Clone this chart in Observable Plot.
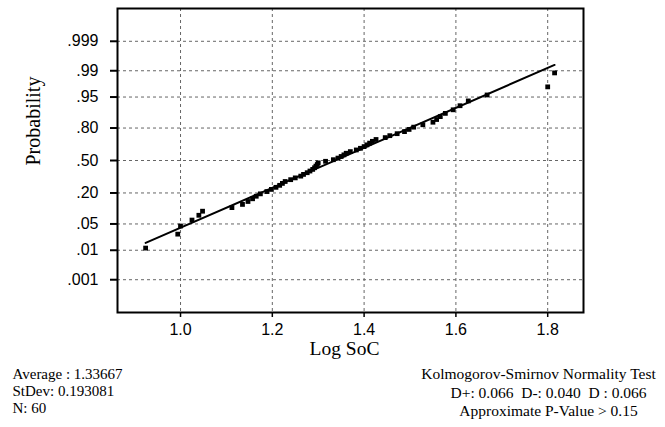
<!DOCTYPE html>
<html><head><meta charset="utf-8">
<script src="https://cdn.jsdelivr.net/npm/d3@7"></script>
<script src="https://cdn.jsdelivr.net/npm/@observablehq/plot@0.6"></script>
<style>body{margin:0;background:#fff}</style>
</head><body><div id="chart"></div>
<script>
const logSoC = [0.924,0.994,1.000,1.025,1.040,1.048,1.112,1.135,1.147,1.157,
  1.165,1.174,1.188,1.198,1.208,1.216,1.222,1.228,1.240,1.250,
  1.262,1.268,1.276,1.282,1.288,1.292,1.295,1.298,1.300,1.316,
  1.333,1.343,1.350,1.356,1.361,1.370,1.383,1.392,1.400,1.406,
  1.412,1.418,1.426,1.446,1.456,1.472,1.488,1.498,1.508,1.528,
  1.550,1.558,1.566,1.577,1.594,1.609,1.627,1.668,1.800,1.815];
const probTicks = [0.001,0.01,0.05,0.20,0.50,0.80,0.95,0.99,0.999];
const probLabels = [".001",".01",".05",".20",".50",".80",".95",".99",".999"];
const xTicks = [1.0,1.2,1.4,1.6,1.8];
const average = 1.33667, stdev = 0.193081, nObs = 60;
const statsLines = ["Average : 1.33667","StDev: 0.193081","N: 60"];
const ksLines = ["Kolmogorov-Smirnov Normality Test","D+: 0.066  D-: 0.040  D : 0.066","Approximate P-Value > 0.15"];

function probit(p){
  const a=[-3.969683028665376e+01,2.209460984245205e+02,-2.759285104469687e+02,1.383577518672690e+02,-3.066479806614716e+01,2.506628277459239e+00];
  const b=[-5.447609879822406e+01,1.615858368580409e+02,-1.556989798598866e+02,6.680131188771972e+01,-1.328068155288572e+01];
  const c=[-7.784894002430293e-03,-3.223964580411365e-01,-2.400758277161838e+00,-2.549732539343734e+00,4.374664141464968e+00,2.938163982698783e+00];
  const d=[7.784695709041462e-03,3.224671290700398e-01,2.445134137142996e+00,3.754408661907416e+00];
  const pl=0.02425;
  const tail=q=>(((((c[0]*q+c[1])*q+c[2])*q+c[3])*q+c[4])*q+c[5])/((((d[0]*q+d[1])*q+d[2])*q+d[3])*q+1);
  if(p<pl) return tail(Math.sqrt(-2*Math.log(p)));
  if(p>1-pl) return -tail(Math.sqrt(-2*Math.log(1-p)));
  const q=p-0.5, r=q*q;
  return (((((a[0]*r+a[1])*r+a[2])*r+a[3])*r+a[4])*r+a[5])*q/(((((b[0]*r+b[1])*r+b[2])*r+b[3])*r+b[4])*r+1);
}

const n = logSoC.length;
const points = logSoC.map((x,i)=>({x, z: probit((i+1-0.3)/(n+0.4))}));
const xmin = d3.min(logSoC), xmax = d3.max(logSoC);
const fit = [xmin, xmax].map(x=>({x, z:(x-average)/stdev}));
const tickZ = probTicks.map(probit);
const labelFor = v => probLabels[tickZ.findIndex(t=>Math.abs(t-v)<1e-9)];

const serif = "Liberation Serif, Times New Roman, serif";
const sans = "Liberation Sans, Arial, sans-serif";

const statsMarks = statsLines.map((s,i)=>Plot.text([s], {frameAnchor: "bottom-left", textAnchor: "start", dx: -105, dy: 66+i*17, fontSize: 15, fontFamily: serif}));
const ksDx = [-45,-35,-35], ksDy = [66,85,103];
const ksMarks = ksLines.map((s,i)=>Plot.text([s], {frameAnchor: "bottom-right", textAnchor: "middle", dx: ksDx[i], dy: ksDy[i], fontSize: 15.5, fontFamily: serif}));

const chart = Plot.plot({
  width: 665, height: 427,
  marginLeft: 117, marginRight: 82, marginTop: 8, marginBottom: 115,
  style: {fontFamily: sans, background: "#fff", color: "#000"},
  x: {domain: [0.8627, 1.878]},
  y: {domain: [-3.94, 3.94]},
  marks: [
    Plot.gridX(xTicks, {stroke: "#666", strokeOpacity: 1, strokeDasharray: "3,3"}),
    Plot.gridY(tickZ, {stroke: "#666", strokeOpacity: 1, strokeDasharray: "3,3"}),
    Plot.axisX(xTicks, {tickFormat: d3.format(".1f"), tickSize: 5, tickPadding: 6, fontSize: 16, label: null, strokeWidth: 1.5}),
    Plot.axisY(tickZ, {tickFormat: labelFor, tickSize: 7, tickPadding: 12, fontSize: 16, label: null, strokeWidth: 2}),
    Plot.line(fit, {x: "x", y: "z", stroke: "#000", strokeWidth: 2}),
    Plot.dot(points, {x: "x", y: "z", symbol: "square", r: 2.7, fill: "#000", stroke: "none"}),
    Plot.frame({stroke: "#000", strokeWidth: 2}),
    Plot.text(["Probability"], {frameAnchor: "left", rotate: -90, dx: -84, dy: 5, fontSize: 20, fontFamily: serif}),
    Plot.text(["Log SoC"], {frameAnchor: "bottom", dx: -6, dy: 42, fontSize: 19.5, fontFamily: serif}),
    ...statsMarks,
    ...ksMarks
  ]
});
document.getElementById("chart").appendChild(chart);
</script>
</body></html>
